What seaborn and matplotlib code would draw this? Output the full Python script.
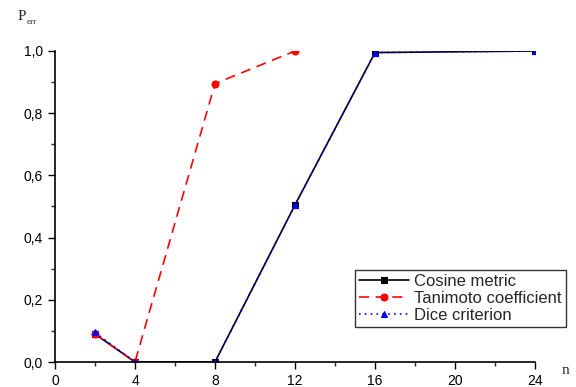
import matplotlib
matplotlib.use("Agg")
import matplotlib.pyplot as plt
import seaborn as sns
import pandas as pd
from matplotlib.ticker import MultipleLocator, FuncFormatter

sns.set_style("ticks")
plt.rcParams['font.family'] = ['Liberation Sans', 'DejaVu Sans']

cos_n = [2, 4, 8, 12, 16, 24]
cos_p = [0.09, 0.0, 0.0, 0.505, 0.995, 1.0]
tan_n = [2, 4, 8, 12]
tan_p = [0.09, 0.0, 0.895, 1.0]
dice_n = [2, 4, 8, 12, 16, 24]
dice_p = [0.095, 0.0, 0.0, 0.505, 0.995, 1.0]

names = ["Cosine metric", "Tanimoto coefficient", "Dice criterion"]
colors = ["black", "red", "blue"]
markers = ["s", "o", "^"]
lss = ["-", (0, (6, 4)), (0, (1, 2.5))]

fig = plt.figure(figsize=(5.76, 3.87), dpi=100)
ax = fig.add_axes([55/576, 1-362/387, (535-55)/576, (362-51)/387])

series = [(cos_n, cos_p), (tan_n, tan_p), (dice_n, dice_p)]
for (xs, ys), name, c, m, ls in zip(series, names, colors, markers, lss):
    df = pd.DataFrame({"n": xs, "p": ys})
    sns.lineplot(data=df, x="n", y="p", ax=ax, color=c, marker=m, linestyle=ls,
                 markersize=5, markeredgecolor=c, markeredgewidth=0.8, linewidth=1.2,
                 label=name, clip_on=True)

ax.set_xlim(0, 24)
ax.set_ylim(0, 1.0)
ax.xaxis.set_major_locator(MultipleLocator(4))
ax.xaxis.set_minor_locator(MultipleLocator(2))
ax.yaxis.set_major_locator(MultipleLocator(0.2))
ax.yaxis.set_minor_locator(MultipleLocator(0.1))
ax.yaxis.set_major_formatter(FuncFormatter(lambda v, p: f"{v:.1f}".replace(".", ",")))
ax.tick_params(which="major", length=5, width=1, direction="out", labelsize=10, colors="black")
ax.tick_params(which="minor", length=3, width=1, direction="out")
for s in ["top", "right"]:
    ax.spines[s].set_visible(False)
for s in ["left", "bottom"]:
    ax.spines[s].set_color("black")
    ax.spines[s].set_linewidth(1.2)
ax.set_xlabel("")
ax.set_ylabel("")

fig.text(18/576, 1-20/387, "P", family=["Liberation Serif"], fontsize=11, ha="left", va="baseline")
fig.text(27/576, 1-24/387, "err", family=["Liberation Serif"], fontsize=6.5, ha="left", va="baseline")
fig.text(562/576, 1-374/387, "n", family=["Liberation Serif"], fontsize=11, ha="left", va="baseline")

ax.get_legend().remove()
h, l = ax.get_legend_handles_labels()
leg = fig.legend(h, l, loc="upper left", bbox_to_anchor=(355/576, 1-270/387),
                 frameon=True, fancybox=False, edgecolor="black", fontsize=12,
                 handlelength=3.0, borderpad=0.25, labelspacing=0.1, handletextpad=0.3,
                 borderaxespad=0)
leg.get_frame().set_linewidth(1.0)

fig.savefig("out.png", dpi=100)
